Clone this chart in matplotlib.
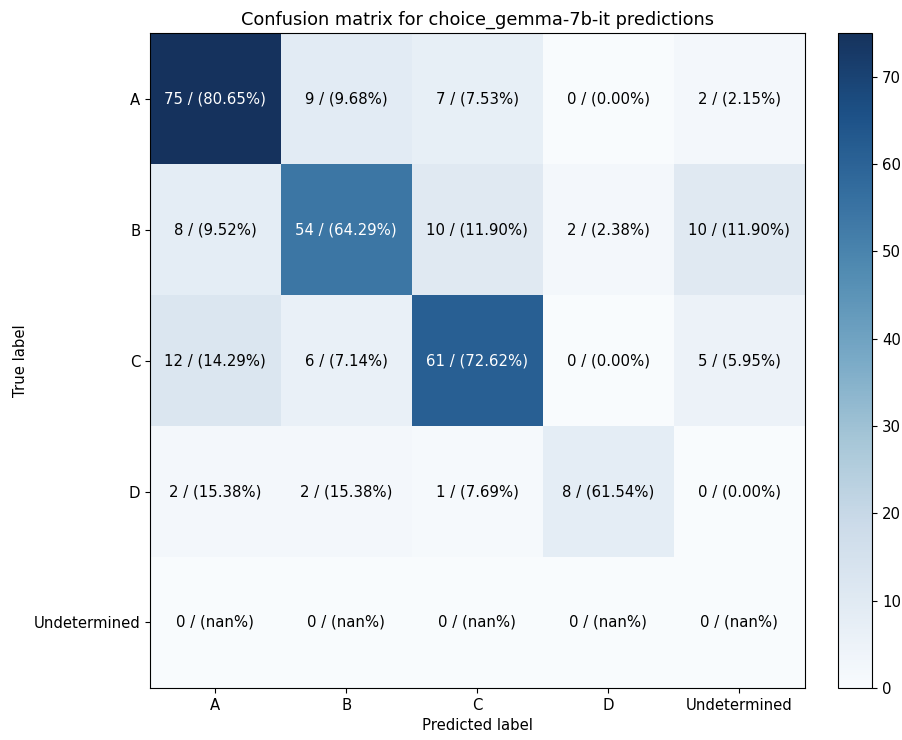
import colorsys
import numpy as np
import matplotlib
matplotlib.use("Agg")
import matplotlib.pyplot as plt
from matplotlib.colors import ListedColormap

labels = ["A", "B", "C", "D", "Undetermined"]
model_name = "choice_gemma-7b-it"

# rows: true label, columns: predicted label
counts = np.array([
    [75, 9, 7, 0, 2],
    [8, 54, 10, 2, 10],
    [12, 6, 61, 0, 5],
    [2, 2, 1, 8, 0],
    [0, 0, 0, 0, 0],
])

with np.errstate(invalid="ignore", divide="ignore"):
    pct = counts / counts.sum(axis=1, keepdims=True) * 100

# muted version of the Blues map
base = plt.cm.Blues(np.linspace(0, 1, 256))
muted = []
for r, g, b, a in base:
    h, l, s = colorsys.rgb_to_hls(r, g, b)
    muted.append(colorsys.hls_to_rgb(h, l, s * 0.72))
cmap = ListedColormap(muted)

plt.rcParams["font.size"] = 10.7

fig = plt.figure(figsize=(9.03, 7.4), dpi=100)
ax = fig.add_axes([0.166, 0.0703, 0.725, 0.885])
cax = fig.add_axes([0.928, 0.0703, 0.038, 0.885])

im = ax.imshow(counts, interpolation="nearest", cmap=cmap, aspect="auto")
fig.colorbar(im, cax=cax)

ax.set_title(f"Confusion matrix for {model_name} predictions", fontsize=12.8)
ax.set_xticks(np.arange(len(labels)))
ax.set_xticklabels(labels)
ax.set_yticks(np.arange(len(labels)))
ax.set_yticklabels(labels)
ax.set_xlabel("Predicted label")
ax.set_ylabel("True label")

thresh = counts.max() / 2.0
for i in range(counts.shape[0]):
    for j in range(counts.shape[1]):
        txt = f"{counts[i, j]} / ({pct[i, j]:.2f}%)"
        ax.text(j, i, txt, ha="center", va="center",
                color="white" if counts[i, j] > thresh else "black")

fig.savefig("out.png", dpi=100)
